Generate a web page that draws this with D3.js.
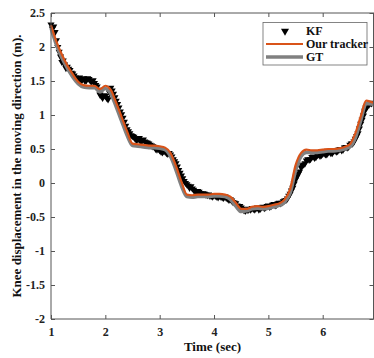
<!DOCTYPE html>
<html><head><meta charset="utf-8">
<script src="https://cdn.jsdelivr.net/npm/d3@7"></script>
<style>body{margin:0;background:#fff}svg{display:block}</style>
</head><body>
<svg id="c" width="374" height="358"></svg>
<script>
const xTicks = [1, 2, 3, 4, 5, 6];
const yTicks = [-2, -1.5, -1, -0.5, 0, 0.5, 1, 1.5, 2, 2.5];
const yTickLabels = ["-2", "-1.5", "-1", "-0.5", "0", "0.5", "1", "1.5", "2", "2.5"];

const lineTime = [1.0,1.1,1.2,1.3,1.4,1.5,1.6,1.7,1.8,1.9,2.0,2.1,2.2,2.3,2.4,2.5,2.6,2.7,2.8,2.9,3.0,3.1,3.2,3.3,3.4,3.5,3.6,3.7,3.8,3.9,4.0,4.1,4.2,4.3,4.4,4.5,4.6,4.7,4.8,4.9,5.0,5.1,5.2,5.3,5.4,5.5,5.6,5.7,5.8,5.9,6.0,6.1,6.2,6.3,6.4,6.5,6.6,6.7,6.8,6.9,6.94];
const tracker = [2.32,2.08,1.89,1.73,1.60,1.49,1.44,1.43,1.43,1.38,1.43,1.37,1.18,0.97,0.76,0.58,0.57,0.56,0.55,0.55,0.54,0.52,0.44,0.25,0.02,-0.17,-0.18,-0.17,-0.17,-0.17,-0.16,-0.16,-0.17,-0.20,-0.29,-0.38,-0.38,-0.35,-0.34,-0.35,-0.34,-0.32,-0.30,-0.24,-0.09,0.26,0.44,0.49,0.48,0.48,0.49,0.50,0.50,0.51,0.53,0.57,0.73,0.98,1.21,1.19,1.18];
const gt = [2.28,2.03,1.84,1.69,1.56,1.46,1.41,1.40,1.40,1.34,1.39,1.31,1.12,0.91,0.70,0.55,0.54,0.53,0.52,0.52,0.51,0.49,0.39,0.19,-0.04,-0.20,-0.21,-0.20,-0.20,-0.20,-0.19,-0.19,-0.20,-0.24,-0.34,-0.42,-0.41,-0.38,-0.37,-0.38,-0.37,-0.35,-0.33,-0.28,-0.15,0.18,0.39,0.45,0.45,0.45,0.46,0.47,0.47,0.48,0.50,0.53,0.66,0.92,1.17,1.16,1.15];

const kfTime = [
1.000,1.025,1.050,1.075,1.100,1.125,1.150,1.175,1.200,1.225,1.250,1.275,1.300,1.325,1.350,1.375,1.400,1.425,1.450,1.475,
1.500,1.525,1.550,1.575,1.600,1.625,1.650,1.675,1.700,1.725,1.750,1.775,1.800,1.825,1.850,1.875,1.900,1.925,1.950,1.975,
2.000,2.025,2.050,2.075,2.100,2.125,2.150,2.175,2.200,2.225,2.250,2.275,2.300,2.325,2.350,2.375,2.400,2.425,2.450,2.475,
2.500,2.525,2.550,2.575,2.600,2.625,2.650,2.675,2.700,2.725,2.750,2.775,2.800,2.825,2.850,2.875,2.900,2.925,2.950,2.975,
3.000,3.025,3.050,3.075,3.100,3.125,3.150,3.175,3.200,3.225,3.250,3.275,3.300,3.325,3.350,3.375,3.400,3.425,3.450,3.475,
3.500,3.525,3.550,3.575,3.600,3.625,3.650,3.675,3.700,3.725,3.750,3.775,3.800,3.825,3.850,3.875,3.900,3.925,3.950,3.975,
4.000,4.025,4.050,4.075,4.100,4.125,4.150,4.175,4.200,4.225,4.250,4.275,4.300,4.325,4.350,4.375,4.400,4.425,4.450,4.475,
4.500,4.525,4.550,4.575,4.600,4.625,4.650,4.675,4.700,4.725,4.750,4.775,4.800,4.825,4.850,4.875,4.900,4.925,4.950,4.975,
5.000,5.025,5.050,5.075,5.100,5.125,5.150,5.175,5.200,5.225,5.250,5.275,5.300,5.325,5.350,5.375,5.400,5.425,5.450,5.475,
5.500,5.525,5.550,5.575,5.600,5.625,5.650,5.675,5.700,5.725,5.750,5.775,5.800,5.825,5.850,5.875,5.900,5.925,5.950,5.975,
6.000,6.025,6.050,6.075,6.100,6.125,6.150,6.175,6.200,6.225,6.250,6.275,6.300,6.325,6.350,6.375,6.400,6.425,6.450,6.475,
6.500,6.525,6.550,6.575,6.600,6.625,6.650,6.675,6.700,6.725,6.750,6.775,6.800,6.825,6.850,6.875,6.900];
const kf = [
2.33,2.27,2.30,2.22,2.10,2.00,1.93,1.86,1.78,1.80,1.74,1.69,1.71,1.68,1.66,1.62,1.61,1.58,1.55,1.52,
1.53,1.55,1.50,1.52,1.54,1.50,1.51,1.54,1.53,1.50,1.49,1.51,1.47,1.44,1.42,1.37,1.30,1.28,1.25,1.29,
1.28,1.25,1.23,1.33,1.40,1.36,1.31,1.26,1.21,1.16,1.11,1.05,1.01,0.96,0.90,0.84,0.79,0.76,0.73,0.70,
0.69,0.68,0.65,0.63,0.64,0.66,0.61,0.62,0.64,0.61,0.60,0.59,0.58,0.56,0.55,0.54,0.53,0.50,0.49,0.50,
0.48,0.46,0.45,0.47,0.46,0.44,0.43,0.44,0.42,0.39,0.35,0.32,0.29,0.24,0.19,0.15,0.11,0.07,0.03,0.00,
-0.02,-0.04,-0.07,-0.05,-0.08,-0.10,-0.12,-0.13,-0.12,-0.13,-0.15,-0.16,-0.15,-0.16,-0.17,-0.18,-0.17,-0.19,-0.19,-0.20,
-0.18,-0.19,-0.20,-0.21,-0.19,-0.20,-0.21,-0.22,-0.20,-0.22,-0.23,-0.25,-0.24,-0.26,-0.28,-0.29,-0.30,-0.33,-0.35,-0.34,
-0.36,-0.38,-0.40,-0.41,-0.39,-0.40,-0.38,-0.39,-0.37,-0.38,-0.39,-0.37,-0.36,-0.39,-0.38,-0.36,-0.35,-0.37,-0.36,-0.34,
-0.33,-0.35,-0.34,-0.32,-0.31,-0.33,-0.32,-0.30,-0.29,-0.30,-0.29,-0.27,-0.26,-0.25,-0.23,-0.19,-0.16,-0.11,-0.07,-0.01,
0.05,0.09,0.13,0.17,0.23,0.26,0.27,0.29,0.33,0.35,0.34,0.35,0.38,0.39,0.37,0.38,0.41,0.42,0.40,0.41,
0.43,0.44,0.42,0.42,0.45,0.46,0.44,0.44,0.47,0.48,0.46,0.47,0.49,0.50,0.48,0.49,0.52,0.53,0.52,0.53,
0.56,0.58,0.58,0.61,0.65,0.69,0.73,0.80,0.87,0.93,0.99,1.06,1.11,1.13,1.15,1.18,1.17];

const svg = d3.select("#c");
const L = 51, R = 374, T = 13, B = 319;
const x = d3.scaleLinear().domain([1, 6.944]).range([L, R]);
const y = d3.scaleLinear().domain([-2, 2.5]).range([B, T]);
const font = "'Liberation Serif', 'Times New Roman', serif";
const axisCol = "#555";

const g = svg.append("g");
const line = d3.line().x((d,i)=>x(lineTime[i])).y(d=>y(d)).curve(d3.curveMonotoneX);
const tri = d3.symbol().type(d3.symbolTriangle).size(22);
g.selectAll("path.kf").data(kf).join("path").attr("class","kf")
  .attr("d", tri).attr("fill","#000")
  .attr("transform",(d,i)=>`translate(${x(kfTime[i])},${y(d)}) rotate(180)`);
g.append("path").datum(gt).attr("d", line).attr("fill","none").attr("stroke","#808080").attr("stroke-width",3.5);
g.append("path").datum(tracker).attr("d", line).attr("fill","none").attr("stroke","#D95319").attr("stroke-width",2.2);

const ax = svg.append("g");
ax.append("line").attr("x1",L).attr("x2",R).attr("y1",B).attr("y2",B).attr("stroke",axisCol);
ax.append("line").attr("x1",L).attr("x2",R).attr("y1",T).attr("y2",T).attr("stroke",axisCol);
ax.append("line").attr("x1",L).attr("x2",L).attr("y1",T).attr("y2",B).attr("stroke",axisCol);
ax.append("line").attr("x1",R-0.5).attr("x2",R-0.5).attr("y1",T).attr("y2",B).attr("stroke",axisCol);

const axB = d3.axisBottom(x).tickValues(xTicks).tickSize(-4).tickPadding(8).tickFormat(d3.format("d"));
const gB = svg.append("g").attr("transform",`translate(0,${B})`).call(axB);
const axT = d3.axisTop(x).tickValues(xTicks).tickSize(-4).tickFormat("");
const gT = svg.append("g").attr("transform",`translate(0,${T})`).call(axT);
const axL = d3.axisLeft(y).tickValues(yTicks).tickSize(-4).tickPadding(6).tickFormat((d,i)=>yTickLabels[i]);
const gL = svg.append("g").attr("transform",`translate(${L},0)`).call(axL);
const axR = d3.axisRight(y).tickValues(yTicks).tickSize(-4).tickFormat("");
const gR = svg.append("g").attr("transform",`translate(${R-0.5},0)`).call(axR);
[gB,gT,gL,gR].forEach(a=>{
  a.select(".domain").remove();
  a.selectAll(".tick line").attr("stroke",axisCol);
  a.selectAll("text").attr("fill","#222").style("font-family",font).style("font-weight","bold").style("font-size","12px");
});

svg.append("text").attr("x",(L+R)/2).attr("y",351).attr("text-anchor","middle")
  .style("font-family",font).style("font-weight","bold").style("font-size","13px").attr("fill","#111").text("Time (sec)");
svg.append("text").attr("transform",`translate(21,${(T+B)/2}) rotate(-90)`).attr("text-anchor","middle")
  .style("font-family",font).style("font-weight","bold").style("font-size","13px").attr("fill","#111")
  .text("Knee displacement in the moving direction (m).");

const lg = svg.append("g");
lg.append("rect").attr("x",263).attr("y",22.5).attr("width",104).attr("height",42.5).attr("fill","#fff").attr("stroke","#666").attr("stroke-width",0.8);
const entries = [{name:"KF",type:"m"},{name:"Our tracker",type:"l",c:"#D95319",w:2.2},{name:"GT",type:"l",c:"#808080",w:3.5}];
entries.forEach((e,i)=>{
  const yy = 31 + i*13;
  if (e.type==="m") {
    lg.append("path").attr("d",d3.symbol().type(d3.symbolTriangle).size(28)).attr("fill","#000").attr("transform",`translate(285,${yy}) rotate(180)`);
  } else {
    lg.append("line").attr("x1",266).attr("x2",303).attr("y1",yy).attr("y2",yy).attr("stroke",e.c).attr("stroke-width",e.w);
  }
  lg.append("text").attr("x",306).attr("y",yy+4).style("font-family",font).style("font-weight","bold").style("font-size","12px").attr("fill","#111").text(e.name);
});
</script>
</body></html>
